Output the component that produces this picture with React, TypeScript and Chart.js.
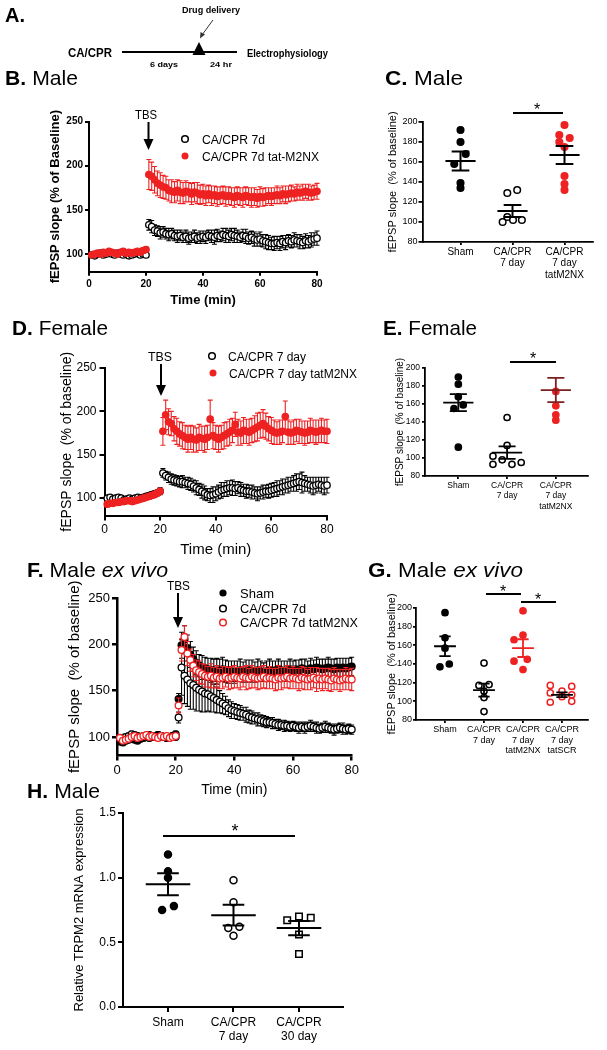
import React, { useEffect, useRef } from 'react';
import { Chart, registerables } from 'chart.js';

Chart.register(...registerables);

const FONT = "'Liberation Sans', Arial, Helvetica, sans-serif";
const RED = '#ee2222';
const BLACK = '#000000';
Chart.defaults.font.family = FONT;
Chart.defaults.color = '#000';

// ---------------- Time-course data (B, D, F) ----------------
const TIME = [1,2,3,4,5,6,7,8,9,10,11,12,13,14,15,16,17,18,19,20,21,22,23,24,25,26,27,28,29,30,31,32,33,34,35,36,37,38,39,40,41,42,43,44,45,46,47,48,49,50,51,52,53,54,55,56,57,58,59,60,61,62,63,64,65,66,67,68,69,70,71,72,73,74,75,76,77,78,79,80];
const TIME_TICKS = [0, 20, 40, 60, 80];
const LTP_Y_TICKS = [100, 150, 200, 250];

// B. Male
const B_CPR = [99,98,100,101,99,100,101,100,99,101,100,99,100,98,99,100,101,99,100,99,
  133,131,127,126,124,125,123,122,123,121,120,121,119,120,118,119,120,118,119,120,
  119,121,120,119,121,120,122,121,120,122,121,120,119,121,120,118,119,117,116,117,
  115,114,113,112,112,113,112,114,113,115,114,116,115,114,113,115,114,116,117,118];
const B_CPR_SEM = [2,2,3,2,2,3,2,2,3,2,2,3,2,2,3,2,2,3,2,3,
  6,7,6,6,7,6,6,7,6,6,7,6,6,7,7,6,7,6,7,6,
  7,6,7,8,7,6,7,8,7,7,8,7,6,7,8,7,7,8,7,8,
  7,8,8,7,8,7,8,7,8,7,7,8,7,8,7,8,7,8,7,8];
const B_TAT = [99,100,101,100,102,101,103,102,101,100,102,103,101,102,101,102,103,102,104,105,
  190,188,184,180,178,176,175,172,171,170,172,170,169,171,170,168,170,169,167,168,
  166,168,166,167,165,166,167,165,166,165,164,166,165,164,166,165,164,165,163,165,
  164,165,166,165,166,167,166,168,167,168,169,168,170,169,170,171,170,169,170,171];
const B_TAT_SEM = [2,3,2,3,2,3,2,3,2,3,2,3,2,3,2,3,2,3,3,3,
  17,16,15,14,14,13,13,12,13,12,12,13,12,12,11,12,11,12,11,11,
  11,10,11,10,11,10,10,11,10,10,11,10,10,11,10,10,11,10,10,11,
  10,10,9,10,9,10,9,9,10,9,9,8,9,8,9,8,9,8,8,9];

// D. Female
const D_CPR = [100,101,99,100,101,100,98,99,100,99,100,101,100,101,102,103,104,105,106,108,
  129,126,124,122,121,120,119,119,118,117,116,114,112,110,108,106,104,103,104,105,
  107,109,110,111,112,112,111,112,110,109,108,108,107,106,105,106,107,108,108,109,
  110,111,112,113,114,115,116,117,118,119,118,117,116,115,114,115,116,115,114,115];
const D_CPR_SEM = [3,3,3,3,3,3,3,3,3,3,3,3,3,3,3,3,3,3,3,4,
  5,5,6,6,6,6,6,7,6,7,7,7,8,7,8,8,7,8,9,8,
  8,9,8,9,8,9,8,7,8,7,8,7,8,7,8,7,8,7,8,8,
  8,9,8,9,8,9,8,9,10,9,12,9,8,9,10,9,8,9,10,9];
const D_TAT = [93,94,94,95,95,96,96,97,97,96,97,98,99,100,101,102,103,104,106,108,
  177,196,188,186,180,177,174,172,170,168,170,168,167,170,169,168,170,191,172,170,
  168,170,172,174,176,178,185,176,175,178,177,176,178,180,182,184,186,183,180,178,
  176,175,176,177,194,176,175,176,178,177,176,175,176,178,177,176,177,178,177,177];
const D_TAT_SEM = [3,3,3,3,3,3,3,3,3,3,3,3,3,3,3,3,3,3,3,3,
  16,17,15,14,14,15,14,15,14,15,14,15,14,15,14,15,14,22,15,14,
  15,14,15,14,15,14,14,15,14,15,14,15,14,15,16,15,16,15,14,15,
  14,13,14,13,18,14,13,14,13,14,13,14,13,14,13,14,13,14,13,14];

// F. Male ex vivo
const F_SHAM = [95,94,96,97,98,97,96,98,99,100,99,100,101,102,101,100,99,100,101,103,
  141,199,205,196,189,184,180,177,175,174,173,172,172,171,172,173,171,170,171,170,
  171,172,170,171,172,171,170,172,171,170,171,172,171,172,173,172,171,172,173,172,
  173,172,174,173,172,174,173,175,174,173,174,175,174,173,175,174,175,174,175,176];
const F_SHAM_SEM = [3,3,3,3,3,3,3,3,3,3,3,3,3,3,3,3,3,3,3,3,
  6,14,15,14,14,13,13,12,13,12,12,13,12,14,12,13,12,12,11,12,
  11,12,11,12,11,12,11,12,11,10,11,12,11,10,11,10,11,10,11,10,
  10,11,10,11,10,11,10,11,10,11,10,11,10,11,10,11,10,11,10,10];
const F_CPR = [98,99,100,101,103,102,101,100,101,100,102,101,100,102,101,100,99,100,101,100,
  121,175,166,162,158,156,153,151,149,147,146,144,142,140,138,136,134,131,129,128,
  127,126,125,124,122,121,120,119,118,117,116,116,115,114,113,113,112,112,111,112,
  111,110,111,110,111,112,111,110,109,110,111,110,109,108,109,110,109,108,109,108];
const F_CPR_SEM = [3,3,3,3,3,3,3,3,3,3,3,3,3,3,3,3,3,3,3,3,
  6,30,30,29,28,26,25,23,22,20,18,17,15,14,12,11,10,9,9,8,
  8,8,7,8,7,7,6,7,6,6,6,5,6,5,6,5,6,5,5,5,
  5,6,5,6,5,6,5,6,5,5,6,5,5,6,5,5,6,5,5,5];
const F_TAT = [99,96,97,98,100,101,99,100,101,102,100,101,100,99,101,100,101,99,100,101,
  134,194,208,190,183,177,172,170,168,166,165,166,164,165,163,164,165,163,164,165,
  164,163,165,164,163,165,164,163,164,165,163,164,163,162,164,163,164,165,163,164,
  163,162,164,163,162,163,164,162,163,162,163,162,161,163,162,161,162,163,162,162];
const F_TAT_SEM = [3,3,3,3,3,3,3,3,3,3,3,3,3,3,3,3,3,3,3,3,
  8,12,12,13,12,12,11,12,11,12,11,13,11,12,11,12,11,12,12,12,
  11,12,11,13,11,12,11,12,12,12,11,12,11,12,13,12,11,12,11,12,
  11,12,12,12,11,12,11,13,11,12,11,12,12,12,11,12,11,12,11,12];

// ---------------- Scatter panels (C, E, G, H) ----------------
const C_LABELS = [['Sham'], ['CA/CPR', '7 day'], ['CA/CPR', '7 day', 'tatM2NX']];
const C_SHAM = [192, 180, 168, 158, 139, 134];
const C_SHAM_JX = [0, 0, 0.1, -0.12, 0, 0];
const C_CPR = [132, 129, 105, 102, 102, 100];
const C_CPR_JX = [0.09, -0.1, -0.1, 0.01, 0.18, -0.19];
const C_TAT = [197, 187, 184, 180, 175, 146, 138, 132];
const C_TAT_JX = [0, -0.1, 0.1, -0.1, 0, 0, 0, 0];
const C_MEAN = [161, 111, 167];
const C_SEM = [9.5, 6, 9];

const E_LABELS = [['Sham'], ['CA/CPR', '7 day'], ['CA/CPR', '7 day', 'tatM2NX']];
const E_SHAM = [190, 182, 168, 159, 155, 112];
const E_SHAM_JX = [0, 0, 0, 0.1, -0.09, 0];
const E_CPR = [145, 114, 102, 98, 93, 93, 95];
const E_CPR_JX = [0, 0, -0.29, -0.1, -0.29, 0.1, 0.29];
const E_TAT = [174, 158, 148, 142];
const E_TAT_JX = [0, 0, 0, 0];
const E_MEAN = [161.5, 106, 175.5];
const E_SEM = [9.5, 7, 13.5];

const G_LABELS = [['Sham'], ['CA/CPR', '7 day'], ['CA/CPR', '7 day', 'tatM2NX'], ['CA/CPR', '7 day', 'tatSCR']];
const G_SHAM = [195, 168, 157, 140, 137];
const G_SHAM_JX = [0, 0, 0, 0.11, -0.13];
const G_CPR = [141, 117, 118, 111, 104, 89];
const G_CPR_JX = [0, -0.13, 0.13, 0, 0, 0];
const G_TAT = [197, 171, 166, 145, 143, 134];
const G_TAT_JX = [0, 0, -0.23, 0.11, -0.23, 0];
const G_SCR = [117, 109, 99, 111, 105, 116, 107, 100];
const G_SCR_JX = [-0.3, -0.3, -0.3, 0, 0, 0.25, 0.25, 0.25];
const G_MEAN = [159, 112, 157, 107];
const G_SEM = [10.5, 7, 9.5, 2.5];

const SLOPE_Y_TICKS = [80, 100, 120, 140, 160, 180, 200];

const H_LABELS = [['Sham'], ['CA/CPR', '7 day'], ['CA/CPR', '30 day']];
const H_SHAM = [1.18, 1.05, 1.0, 0.78, 0.75];
const H_SHAM_JX = [0, 0, 0, 0.09, -0.09];
const H_CPR7 = [0.98, 0.81, 0.62, 0.61, 0.55];
const H_CPR7_JX = [0, 0, 0.09, -0.08, 0];
const H_CPR30 = [0.67, 0.70, 0.69, 0.56, 0.41];
const H_CPR30_JX = [-0.18, 0, 0.18, 0, 0];
const H_MEAN = [0.95, 0.71, 0.61];
const H_SEM = [0.085, 0.08, 0.055];
const H_Y_TICKS = [0, 0.5, 1, 1.5];

// ---------------- helpers ----------------
type Box = { x: number; y: number; w: number; h: number };
type Area = { l: number; t: number; r: number; b: number };

const font = (size: number, weight: any = 'normal', lineHeight = 1.2) => ({ family: FONT, size, weight, lineHeight });

function frame(c: Box, a: Area, yTitleX: number, yTitleSize: number, xTitleY?: number, xTitleSize?: number) {
  const padLeft = yTitleX - c.x - (yTitleSize * 1.2) / 2;
  const yWidth = a.l - c.x - padLeft;
  const padTop = a.t - c.y;
  const padRight = c.x + c.w - a.r;
  let padBottom = 0;
  let xHeight = c.y + c.h - a.b;
  if (xTitleY !== undefined && xTitleSize !== undefined) {
    padBottom = c.y + c.h - xTitleY - (xTitleSize * 1.2) / 2;
    xHeight = c.y + c.h - padBottom - a.b;
  }
  return { padding: { left: padLeft, top: padTop, right: padRight, bottom: padBottom }, yWidth, xHeight };
}

function axis(o: any) {
  const ticks: any = { font: o.tickFont, color: '#000', padding: o.tickPad, maxRotation: 0, minRotation: 0, autoSkip: false };
  if (o.fmt) ticks.callback = o.fmt;
  return {
    type: 'linear',
    min: o.min,
    max: o.max,
    afterBuildTicks: (s: any) => { s.ticks = o.ticks.map((v: number) => ({ value: v })); },
    afterFit: o.fit,
    ticks,
    grid: { drawOnChartArea: false, drawTicks: true, tickLength: o.tickLen, color: '#000', lineWidth: o.width },
    border: { display: true, color: '#000', width: o.width },
    title: o.title ? { display: true, text: o.title.text, font: o.title.font, color: '#000', padding: 0 } : { display: false },
  };
}

const errorBarPlugin = {
  id: 'semBars',
  beforeDatasetDraw(chart: any, args: any) {
    const ds = chart.data.datasets[args.index];
    if (!ds.errorBars) return;
    const xs = chart.scales.x;
    const ys = chart.scales.y;
    const ctx = chart.ctx;
    ctx.save();
    ctx.strokeStyle = ds.errorColor;
    ctx.lineWidth = 1.1;
    ctx.beginPath();
    ds.data.forEach((p: any, i: number) => {
      const e = ds.errorBars[i];
      if (!e) return;
      const px = xs.getPixelForValue(p.x);
      const top = ys.getPixelForValue(p.y + e);
      const bot = ys.getPixelForValue(p.y - e);
      ctx.moveTo(px, top); ctx.lineTo(px, bot);
      ctx.moveTo(px - 2.5, top); ctx.lineTo(px + 2.5, top);
      ctx.moveTo(px - 2.5, bot); ctx.lineTo(px + 2.5, bot);
    });
    ctx.stroke();
    ctx.restore();
  },
};

function meanSemPlugin(means: number[], sems: number[], colors: string[], half: number, cap: number, width: number) {
  return {
    id: 'meanSem',
    afterDatasetsDraw(chart: any) {
      const xs = chart.scales.x;
      const ys = chart.scales.y;
      const ctx = chart.ctx;
      ctx.save();
      ctx.lineWidth = width;
      means.forEach((m, i) => {
        const cx = xs.getPixelForValue(i);
        const xl = xs.getPixelForValue(i - half);
        const xr = xs.getPixelForValue(i + half);
        const cl = xs.getPixelForValue(i - cap);
        const cr = xs.getPixelForValue(i + cap);
        const ym = ys.getPixelForValue(m);
        const yt = ys.getPixelForValue(m + sems[i]);
        const yb = ys.getPixelForValue(m - sems[i]);
        ctx.strokeStyle = colors[i];
        ctx.beginPath();
        ctx.moveTo(xl, ym); ctx.lineTo(xr, ym);
        ctx.moveTo(cx, yt); ctx.lineTo(cx, yb);
        ctx.moveTo(cl, yt); ctx.lineTo(cr, yt);
        ctx.moveTo(cl, yb); ctx.lineTo(cr, yb);
        ctx.stroke();
      });
      ctx.restore();
    },
  };
}

function tsSet(label: string, vals: number[], sem: number[], color: string, open: boolean, r: number, order: number) {
  return {
    label,
    data: TIME.map((t, i) => ({ x: t, y: vals[i] })),
    errorBars: sem,
    errorColor: color,
    pointRadius: r,
    pointBorderWidth: 1.3,
    pointBorderColor: color,
    pointBackgroundColor: open ? '#ffffff' : color,
    pointStyle: 'circle',
    showLine: false,
    clip: false,
    order,
  };
}

function dotSet(vals: number[], jx: number[], cat: number, color: string, open: boolean, r: number, style = 'circle') {
  return {
    data: vals.map((v, i) => ({ x: cat + jx[i], y: v })),
    pointRadius: r,
    pointBorderWidth: 1.5,
    pointBorderColor: color,
    pointBackgroundColor: open ? '#ffffff' : color,
    pointStyle: style,
    showLine: false,
    clip: false,
  };
}

function tsConfig(o: any) {
  const fr = frame(o.box, o.area, o.yTitleX, o.yTitleFont.size, o.xTitleY, o.xTitleFont.size);
  return {
    type: 'scatter',
    data: { datasets: o.datasets },
    options: {
      animation: false,
      responsive: false,
      maintainAspectRatio: false,
      events: [],
      layout: { padding: fr.padding },
      plugins: { legend: { display: false }, tooltip: { enabled: false } },
      scales: {
        x: axis({ min: 0, max: 80, ticks: TIME_TICKS, tickFont: o.tickFont, tickPad: o.xTickPad, tickLen: o.tickLen, width: o.axisW,
          fit: (s: any) => { s.height = fr.xHeight; }, title: { text: 'Time (min)', font: o.xTitleFont } }),
        y: axis({ min: 80, max: 250, ticks: LTP_Y_TICKS, tickFont: o.tickFont, tickPad: o.yTickPad, tickLen: o.tickLen, width: o.axisW,
          fit: (s: any) => { s.width = fr.yWidth; }, title: { text: o.yTitle, font: o.yTitleFont } }),
      },
    },
    plugins: [errorBarPlugin],
  };
}

function dotConfig(o: any) {
  const fr = frame(o.box, o.area, o.yTitleX, o.yTitleSize);
  return {
    type: 'scatter',
    data: { datasets: o.datasets },
    options: {
      animation: false,
      responsive: false,
      maintainAspectRatio: false,
      events: [],
      layout: { padding: fr.padding },
      plugins: { legend: { display: false }, tooltip: { enabled: false } },
      scales: {
        x: axis({ min: o.xMin, max: o.xMax, ticks: o.labels.map((_: any, i: number) => i), fmt: (_v: any, i: number) => o.labels[i],
          tickFont: font(o.labelSize, 'normal', o.labelLH), tickPad: o.xTickPad, tickLen: o.xTickLen, width: o.axisW,
          fit: (s: any) => { s.height = fr.xHeight; } }),
        y: axis({ min: o.yMin, max: o.yMax, ticks: o.yTicks, fmt: o.yFmt, tickFont: font(o.tickSize), tickPad: o.yTickPad, tickLen: o.yTickLen, width: o.axisW,
          fit: (s: any) => { s.width = fr.yWidth; }, title: { text: o.yTitle, font: font(o.yTitleSize) } }),
      },
    },
    plugins: [meanSemPlugin(o.means, o.sems, o.meanColors, o.half, o.cap, o.meanW)],
  };
}

// ---------------- panel configs ----------------
const B_BOX: Box = { x: 0, y: 100, w: 335, h: 212 };
const D_BOX: Box = { x: 0, y: 340, w: 345, h: 222 };
const F_BOX: Box = { x: 0, y: 565, w: 365, h: 235 };
const C_BOX: Box = { x: 335, y: 100, w: 272, h: 190 };
const E_BOX: Box = { x: 335, y: 345, w: 272, h: 180 };
const G_BOX: Box = { x: 335, y: 590, w: 272, h: 180 };
const H_BOX: Box = { x: 0, y: 800, w: 360, h: 250 };

const makeB = () => tsConfig({
  box: B_BOX, area: { l: 89, t: 121.5, r: 317, b: 271.7 },
  yTitle: 'fEPSP slope (% of Baseline)', yTitleX: 55, yTitleFont: font(13, 'bold'),
  xTitleY: 300, xTitleFont: font(13, 'bold'), tickFont: font(10, 'bold'),
  axisW: 2, tickLen: 4, yTickPad: 2, xTickPad: 3,
  datasets: [tsSet('CA/CPR 7d', B_CPR, B_CPR_SEM, BLACK, true, 3.2, 2), tsSet('CA/CPR 7d tat-M2NX', B_TAT, B_TAT_SEM, RED, false, 3.2, 1)],
});

const makeD = () => tsConfig({
  box: D_BOX, area: { l: 104.5, t: 368, r: 327, b: 515.5 },
  yTitle: 'fEPSP slope  (% of baseline)', yTitleX: 67, yTitleFont: font(14),
  xTitleY: 550, xTitleFont: font(15), tickFont: font(12),
  axisW: 2, tickLen: 5, yTickPad: 3, xTickPad: 2,
  datasets: [tsSet('CA/CPR 7 day', D_CPR, D_CPR_SEM, BLACK, true, 3.2, 2), tsSet('CA/CPR 7 day tatM2NX', D_TAT, D_TAT_SEM, RED, false, 3.2, 1)],
});

const makeF = () => tsConfig({
  box: F_BOX, area: { l: 117, t: 598, r: 351.7, b: 755.5 },
  yTitle: 'fEPSP slope  (% of baseline)', yTitleX: 75, yTitleFont: font(15),
  xTitleY: 790.5, xTitleFont: font(14), tickFont: font(13),
  axisW: 2.5, tickLen: 5, yTickPad: 2, xTickPad: 2,
  datasets: [
    tsSet('CA/CPR 7d', F_CPR, F_CPR_SEM, BLACK, true, 3.4, 3),
    tsSet('Sham', F_SHAM, F_SHAM_SEM, BLACK, false, 3.4, 2),
    tsSet('CA/CPR 7d tatM2NX', F_TAT, F_TAT_SEM, RED, true, 3.4, 1),
  ],
});

const makeC = () => dotConfig({
  box: C_BOX, area: { l: 422.5, t: 122, r: 593, b: 242 }, xMin: -0.731, xMax: 2.548,
  yMin: 80, yMax: 200, yTicks: SLOPE_Y_TICKS, labels: C_LABELS,
  yTitle: 'fEPSP slope  (% of baseline)', yTitleX: 393, yTitleSize: 11, tickSize: 9, labelSize: 10, labelLH: 1.15,
  xTickLen: 3, xTickPad: 1, yTickLen: 4, yTickPad: 1, axisW: 1.8,
  datasets: [dotSet(C_SHAM, C_SHAM_JX, 0, BLACK, false, 3.3), dotSet(C_CPR, C_CPR_JX, 1, BLACK, true, 3.3), dotSet(C_TAT, C_TAT_JX, 2, RED, false, 3.3)],
  means: C_MEAN, sems: C_SEM, meanColors: [BLACK, BLACK, BLACK], half: 0.29, cap: 0.17, meanW: 2,
});

const makeE = () => dotConfig({
  box: E_BOX, area: { l: 425, t: 368, r: 588, b: 476 }, xMin: -0.684, xMax: 2.66,
  yMin: 80, yMax: 200, yTicks: SLOPE_Y_TICKS, labels: E_LABELS,
  yTitle: 'fEPSP slope  (% of baseline)', yTitleX: 400, yTitleSize: 10, tickSize: 8.5, labelSize: 8.5, labelLH: 1.25,
  xTickLen: 3, xTickPad: 1, yTickLen: 3, yTickPad: 2, axisW: 1.8,
  datasets: [dotSet(E_SHAM, E_SHAM_JX, 0, BLACK, false, 3.1), dotSet(E_CPR, E_CPR_JX, 1, BLACK, true, 3.1), dotSet(E_TAT, E_TAT_JX, 2, RED, false, 3.1)],
  means: E_MEAN, sems: E_SEM, meanColors: [BLACK, BLACK, '#7d1f1f'], half: 0.31, cap: 0.175, meanW: 1.8,
});

const makeG = () => dotConfig({
  box: G_BOX, area: { l: 416, t: 608, r: 588, b: 720 }, xMin: -0.744, xMax: 3.667,
  yMin: 80, yMax: 200, yTicks: SLOPE_Y_TICKS, labels: G_LABELS,
  yTitle: 'fEPSP slope  (% of baseline)', yTitleX: 392, yTitleSize: 11, tickSize: 9, labelSize: 9, labelLH: 1.2,
  xTickLen: 3, xTickPad: 1, yTickLen: 3, yTickPad: 1, axisW: 1.8,
  datasets: [dotSet(G_SHAM, G_SHAM_JX, 0, BLACK, false, 3.1), dotSet(G_CPR, G_CPR_JX, 1, BLACK, true, 3.1),
    dotSet(G_TAT, G_TAT_JX, 2, RED, false, 3.1), dotSet(G_SCR, G_SCR_JX, 3, RED, true, 3.1)],
  means: G_MEAN, sems: G_SEM, meanColors: [BLACK, BLACK, RED, BLACK], half: 0.28, cap: 0.145, meanW: 1.8,
});

const makeH = () => dotConfig({
  box: H_BOX, area: { l: 123, t: 813, r: 343, b: 1007 }, xMin: -0.687, xMax: 2.672,
  yMin: 0, yMax: 1.5, yTicks: H_Y_TICKS, yFmt: (v: number) => Number(v).toFixed(1), labels: H_LABELS,
  yTitle: 'Relative TRPM2 mRNA expression', yTitleX: 79, yTitleSize: 13, tickSize: 12, labelSize: 12, labelLH: 1.17,
  xTickLen: 5, xTickPad: 4, yTickLen: 5, yTickPad: 2, axisW: 2,
  datasets: [dotSet(H_SHAM, H_SHAM_JX, 0, BLACK, false, 3.5), dotSet(H_CPR7, H_CPR7_JX, 1, BLACK, true, 3.5),
    dotSet(H_CPR30, H_CPR30_JX, 2, BLACK, true, 4.6, 'rect')],
  means: H_MEAN, sems: H_SEM, meanColors: [BLACK, BLACK, BLACK], half: 0.34, cap: 0.165, meanW: 2,
});

function ChartCanvas({ box, make }: { box: Box; make: () => any }) {
  const ref = useRef<HTMLCanvasElement | null>(null);
  useEffect(() => {
    if (!ref.current) return;
    const chart = new Chart(ref.current, make());
    return () => chart.destroy();
  }, []);
  return (
    <canvas ref={ref} width={box.w} height={box.h}
      style={{ position: 'absolute', left: box.x, top: box.y, width: box.w, height: box.h, display: 'block' }} />
  );
}

function Arrow({ x, y1, y2 }: { x: number; y1: number; y2: number }) {
  return (
    <g>
      <line x1={x} y1={y1} x2={x} y2={y2 - 8} stroke="#000" strokeWidth={2} />
      <polygon points={`${x - 5},${y2 - 11} ${x + 5},${y2 - 11} ${x},${y2}`} fill="#000" />
    </g>
  );
}

function Title({ x, y, head, rest, italic, len }: { x: number; y: number; head: string; rest: string; italic?: string; len: number }) {
  return (
    <text x={x} y={y} fontSize={21} textLength={len} lengthAdjust="spacingAndGlyphs">
      <tspan fontWeight="bold">{head}</tspan>
      <tspan dx={6}>{rest}</tspan>
      {italic ? <tspan dx={6} fontStyle="italic">{italic}</tspan> : null}
    </text>
  );
}

function Overlay() {
  return (
    <svg width={607} height={1050} style={{ position: 'absolute', left: 0, top: 0, pointerEvents: 'none' }} fontFamily={FONT} fill="#000">
      {/* Panel A timeline */}
      <text x={5} y={22} fontSize={20} fontWeight="bold">A.</text>
      <text x={182} y={13} fontSize={9} fontWeight="bold" textLength={58} lengthAdjust="spacingAndGlyphs">Drug delivery</text>
      <line x1={213} y1={20} x2={202} y2={35} stroke="#333" strokeWidth={1} />
      <polygon points="200,38.5 205,34.5 200.5,32" fill="#333" />
      <line x1={122} y1={52} x2={237} y2={52} stroke="#000" strokeWidth={2} />
      <polygon points="199,42 192.5,55 205.5,55" fill="#000" />
      <text x={68} y={57} fontSize={12} fontWeight="bold" textLength={44} lengthAdjust="spacingAndGlyphs">CA/CPR</text>
      <text x={150} y={67} fontSize={8} fontWeight="bold" textLength={28} lengthAdjust="spacingAndGlyphs">6 days</text>
      <text x={210} y={67} fontSize={8} fontWeight="bold" textLength={22} lengthAdjust="spacingAndGlyphs">24 hr</text>
      <text x={247} y={57} fontSize={11} fontWeight="bold" textLength={81} lengthAdjust="spacingAndGlyphs">Electrophysiology</text>

      {/* Panel titles */}
      <Title x={5} y={85} head="B." rest="Male" len={73} />
      <Title x={385} y={85} head="C." rest="Male" len={78} />
      <Title x={12} y={335} head="D." rest="Female" len={96} />
      <Title x={383} y={335} head="E." rest="Female" len={94} />
      <Title x={27} y={577} head="F." rest="Male" italic="ex vivo" len={141} />
      <Title x={368} y={577} head="G." rest="Male" italic="ex vivo" len={155} />
      <Title x={27} y={798} head="H." rest="Male" len={73} />

      {/* TBS markers */}
      <text x={135} y={119} fontSize={12} textLength={22} lengthAdjust="spacingAndGlyphs">TBS</text>
      <Arrow x={148.5} y1={122} y2={150} />
      <text x={148} y={361} fontSize={12} textLength={24} lengthAdjust="spacingAndGlyphs">TBS</text>
      <Arrow x={161} y1={364} y2={396} />
      <text x={167} y={590} fontSize={12} textLength={23} lengthAdjust="spacingAndGlyphs">TBS</text>
      <Arrow x={178} y1={593} y2={628} />

      {/* Legend B */}
      <circle cx={185} cy={139} r={3.3} fill="#fff" stroke="#000" strokeWidth={1.5} />
      <text x={202} y={143.5} fontSize={12} textLength={63} lengthAdjust="spacingAndGlyphs">CA/CPR 7d</text>
      <circle cx={185} cy={156} r={3.5} fill={RED} />
      <text x={202} y={160.5} fontSize={12} textLength={117} lengthAdjust="spacingAndGlyphs">CA/CPR 7d tat-M2NX</text>

      {/* Legend D */}
      <circle cx={212} cy={356} r={3.3} fill="#fff" stroke="#000" strokeWidth={1.5} />
      <text x={228} y={360.5} fontSize={12} textLength={78} lengthAdjust="spacingAndGlyphs">CA/CPR 7 day</text>
      <circle cx={213} cy={373} r={3.5} fill={RED} />
      <text x={229} y={377.5} fontSize={12} textLength={128} lengthAdjust="spacingAndGlyphs">CA/CPR 7 day tatM2NX</text>

      {/* Legend F */}
      <circle cx={223} cy={593} r={3.6} fill="#000" />
      <text x={240} y={597.5} fontSize={13}>Sham</text>
      <circle cx={223} cy={608.5} r={3.3} fill="#fff" stroke="#000" strokeWidth={1.5} />
      <text x={240} y={613} fontSize={13} textLength={66} lengthAdjust="spacingAndGlyphs">CA/CPR 7d</text>
      <circle cx={223} cy={622.5} r={3.3} fill="#fff" stroke={RED} strokeWidth={1.5} />
      <text x={240} y={627} fontSize={13} textLength={118} lengthAdjust="spacingAndGlyphs">CA/CPR 7d tatM2NX</text>

      {/* Significance bars */}
      <line x1={513} y1={113} x2={563} y2={113} stroke="#000" strokeWidth={2} />
      <text x={537} y={115} fontSize={16} textAnchor="middle">*</text>
      <line x1={510} y1={362} x2={556} y2={362} stroke="#000" strokeWidth={2} />
      <text x={533} y={364} fontSize={16} textAnchor="middle">*</text>
      <line x1={486} y1={594} x2={521} y2={594} stroke="#000" strokeWidth={2} />
      <text x={503} y={597} fontSize={16} textAnchor="middle">*</text>
      <line x1={521} y1={602} x2={556} y2={602} stroke="#000" strokeWidth={2} />
      <text x={538} y={605} fontSize={16} textAnchor="middle">*</text>
      <line x1={163} y1={836} x2={295} y2={836} stroke="#000" strokeWidth={2} />
      <text x={235} y={837} fontSize={18} textAnchor="middle">*</text>
    </svg>
  );
}

export default function App() {
  return (
    <div style={{ position: 'absolute', left: 0, top: 0, width: 607, height: 1050, background: '#fff', overflow: 'hidden', fontFamily: FONT }}>
      <ChartCanvas box={B_BOX} make={makeB} />
      <ChartCanvas box={C_BOX} make={makeC} />
      <ChartCanvas box={D_BOX} make={makeD} />
      <ChartCanvas box={E_BOX} make={makeE} />
      <ChartCanvas box={F_BOX} make={makeF} />
      <ChartCanvas box={G_BOX} make={makeG} />
      <ChartCanvas box={H_BOX} make={makeH} />
      <Overlay />
    </div>
  );
}
